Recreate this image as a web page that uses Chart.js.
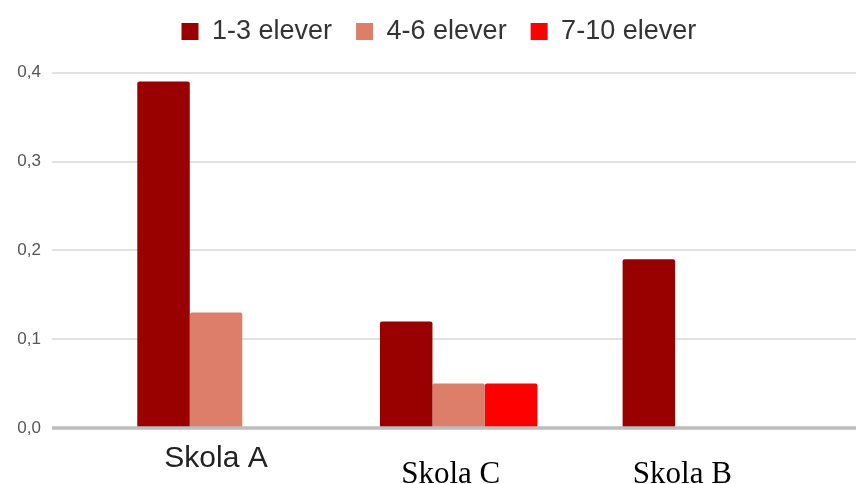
<!DOCTYPE html>
<html>
<head>
<meta charset="utf-8">
<script src="https://cdn.jsdelivr.net/npm/chart.js@4/dist/chart.umd.min.js"></script>
<style>
  html, body { margin: 0; padding: 0; background: #fff; }
  #wrap { width: 856px; height: 484px; position: relative; }
</style>
</head>
<body>
<div id="wrap"><canvas id="chart"></canvas></div>
<script>
// data
const categories = ['Skola A', 'Skola C', 'Skola B'];
const seriesNames = ['1-3 elever', '4-6 elever', '7-10 elever'];
const elever1to3 = [0.39, 0.12, 0.19];
const elever4to6 = [0.13, 0.05, 0];
const elever7to10 = [0, 0.05, 0];
const yMin = 0, yMax = 0.4, yStep = 0.1;

const ctx = document.getElementById('chart').getContext('2d');

// horizontal gridlines run wider than the bar area, so draw them ourselves
const gridLines = {
  id: 'gridLines',
  beforeDatasetsDraw(chart) {
    const y = chart.scales.y;
    const c = chart.ctx;
    c.save();
    c.strokeStyle = '#e2e2e2';
    c.lineWidth = 2;
    y.ticks.forEach(t => {
      if (t.value === 0) return;
      const py = Math.round(y.getPixelForValue(t.value));
      c.beginPath();
      c.moveTo(52, py);
      c.lineTo(chart.width, py);
      c.stroke();
    });
    c.restore();
  },
  afterDatasetsDraw(chart) {
    const y = chart.scales.y;
    const c = chart.ctx;
    const py = y.getPixelForValue(0);
    c.save();
    c.strokeStyle = '#bdbdbd';
    c.lineWidth = 3.5;
    c.beginPath();
    c.moveTo(52, py);
    c.lineTo(chart.width, py);
    c.stroke();
    c.restore();
  }
};

// category labels: the first one in a sans face, the others in a serif face set lower
const catLabels = {
  id: 'catLabels',
  afterDraw(chart) {
    const x = chart.scales.x;
    const bottom = chart.chartArea.bottom;
    const c = chart.ctx;
    c.save();
    c.textAlign = 'center';
    c.textBaseline = 'alphabetic';
    categories.forEach((label, i) => {
      const px = x.getPixelForValue(i);
      if (i === 0) {
        c.font = '30px "Liberation Sans", Arial, sans-serif';
        c.fillStyle = '#222';
        c.fillText(label, px, bottom + 39);
      } else {
        c.font = '31px "Liberation Serif", "Times New Roman", serif';
        c.fillStyle = '#000';
        const shift = i === 1 ? -8 : -19;
        c.fillText(label, px + shift, bottom + 55);
      }
    });
    c.restore();
  }
};

new Chart(ctx, {
  type: 'bar',
  data: {
    labels: categories,
    datasets: [
      { label: seriesNames[0], data: elever1to3, backgroundColor: '#990000' },
      { label: seriesNames[1], data: elever4to6, backgroundColor: '#dd7e6b' },
      { label: seriesNames[2], data: elever7to10, backgroundColor: '#ff0000' }
    ]
  },
  options: {
    responsive: true,
    maintainAspectRatio: false,
    animation: false,
    layout: {
      padding: { top: -6, bottom: 56, left: 55, right: 33.3 }
    },
    datasets: {
      bar: {
        barPercentage: 1,
        categoryPercentage: 0.649,
        borderRadius: 2,
        borderSkipped: 'start'
      }
    },
    plugins: {
      legend: {
        display: true,
        position: 'top',
        labels: {
          boxWidth: 17,
          boxHeight: 17,
          padding: 24,
          color: '#333',
          font: { family: '"Liberation Sans", Arial, sans-serif', size: 27 }
        }
      },
      // empty spacer between legend and plot
      subtitle: {
        display: true,
        text: '',
        weight: 500,
        padding: { top: 0, bottom: 7.7 },
        font: { size: 10, lineHeight: 1 }
      },
      tooltip: { enabled: false }
    },
    scales: {
      x: {
        display: false
      },
      y: {
        min: yMin,
        max: yMax,
        grid: { display: false, drawTicks: false },
        border: { display: false },
        ticks: {
          stepSize: yStep,
          // mirrored so the labels are not clipped to the narrow axis box
          mirror: true,
          crossAlign: 'near',
          padding: -77.5,
          color: '#555',
          font: { family: '"Liberation Sans", Arial, sans-serif', size: 17 },
          callback: v => v.toFixed(1).replace('.', ',')
        },
        afterFit(scale) {
          scale.width = 39.7;
          scale.paddingBottom = 0;
        }
      }
    }
  },
  plugins: [gridLines, catLabels]
});
</script>
</body>
</html>
